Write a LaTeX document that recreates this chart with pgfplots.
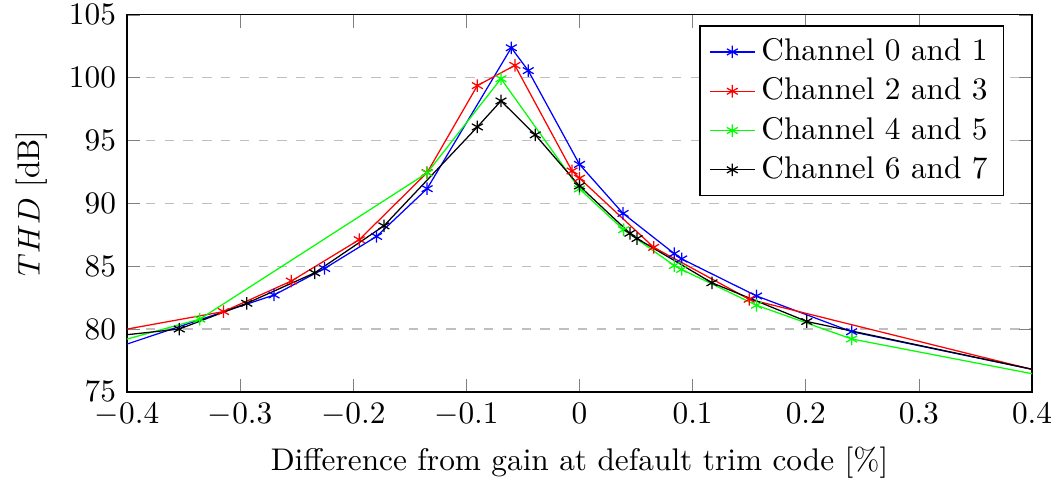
\documentclass[border=0pt]{standalone}
\usepackage{pgfplots}
\pgfplotsset{compat=1.18}
\begin{document}
\begin{tikzpicture}
\begin{axis}[
  scale only axis,
  width=289pt, height=120.4pt,
  xmin=-0.4, xmax=0.4, ymin=75, ymax=105,
  xtick={-0.4,-0.3,...,0.4},
  ytick={75,80,...,105},
  ymajorgrids,
  major grid style={dashed, gray!50},
  xlabel={Difference from gain at default trim code [\%]},
  ylabel={$THD$ [dB]},
  legend style={at={(0.969,0.972)}, anchor=north east, cells={anchor=west}, line width=0.4pt},
  legend image post style={line width=0.4pt},
  legend image code/.code={\draw[mark repeat=2, mark phase=2] plot coordinates {(0cm,0cm) (0.25cm,0cm) (0.5cm,0cm)};},
  every axis plot/.append style={mark=asterisk},
]
\addplot[blue, mark=asterisk] coordinates {
(-0.45,77.30) (-0.270,82.71) (-0.2253,84.82) (-0.1794,87.37) (-0.1347,91.17)
(-0.0603,102.38) (-0.0453,100.56) (0,93.10) (0.0385,89.20) (0.0838,86.0)
(0.0903,85.58) (0.1565,82.63) (0.2406,79.79) (0.45,75.86)
};
\addlegendentry{Channel 0 and 1}
\addplot[red, mark=asterisk] coordinates {
(-0.45,79.18) (-0.3147,81.39) (-0.2547,83.82) (-0.1947,87.11) (-0.1347,92.45)
(-0.0903,99.37) (-0.0571,100.98) (-0.0066,92.58) (0,92.0) (0.0656,86.5)
(0.15,82.37) (0.45,75.67)
};
\addlegendentry{Channel 2 and 3}
\addplot[green, mark=asterisk] coordinates {
(-0.45,77.97) (-0.3356,80.79) (-0.1347,92.42) (-0.0694,99.92) (0,91.15)
(0.039,87.90) (0.0838,85.05) (0.0903,84.74) (0.1565,81.89) (0.2406,79.21)
(0.45,75.58)
};
\addlegendentry{Channel 4 and 5}
\addplot[black, mark=asterisk] coordinates {
(-0.45,79.06) (-0.3538,80.0) (-0.2941,82.05) (-0.2341,84.47) (-0.1729,88.21)
(-0.0903,96.08) (-0.0694,98.15) (-0.0391,95.45) (0,91.38) (0.0446,87.62)
(0.0509,87.20) (0.1171,83.68) (0.2009,80.6) (0.45,75.85)
};
\addlegendentry{Channel 6 and 7}
\end{axis}
\pgfresetboundingbox
\path (current axis.south west) ++(-40.55pt,-29.06pt) rectangle ++(338.8pt,154.2pt);
\end{tikzpicture}
\end{document}
